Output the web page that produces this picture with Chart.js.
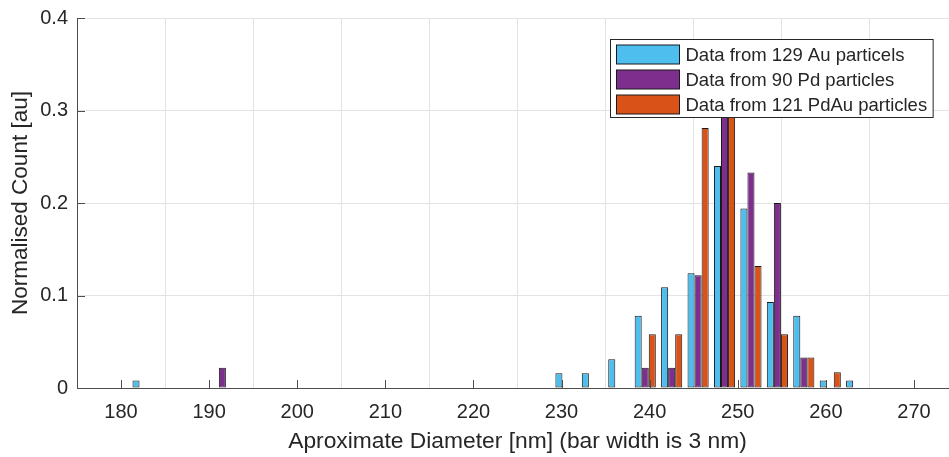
<!DOCTYPE html>
<html>
<head>
<meta charset="utf-8">
<script src="https://cdn.jsdelivr.net/npm/chart.js@4.4.1/dist/chart.umd.min.js"></script>
<style>
  html, body { margin: 0; padding: 0; background: #fff; overflow: hidden; }
  #wrap { position: relative; width: 960px; height: 457px; }
</style>
</head>
<body>
<div id="wrap"><canvas id="hist"></canvas></div>
<script>
// bin centres in nm (3 nm wide bins)
const binCenters = [182.5, 185.5, 188.5, 191.5, 194.5, 197.5, 200.5, 203.5, 206.5, 209.5,
                    212.5, 215.5, 218.5, 221.5, 224.5, 227.5, 230.5, 233.5, 236.5, 239.5,
                    242.5, 245.5, 248.5, 251.5, 254.5, 257.5, 260.5, 263.5];

// normalised counts per bin
const auCounts   = [0.008, 0, 0, 0, 0, 0, 0, 0, 0, 0,
                    0, 0, 0, 0, 0, 0, 0.016, 0.016, 0.031, 0.078,
                    0.109, 0.124, 0.240, 0.194, 0.093, 0.078, 0.008, 0.008];
const pdCounts   = [0, 0, 0, 0.022, 0, 0, 0, 0, 0, 0,
                    0, 0, 0, 0, 0, 0, 0, 0, 0, 0.022,
                    0.022, 0.122, 0.344, 0.233, 0.200, 0.033, 0, 0];
const pdauCounts = [0, 0, 0, 0, 0, 0, 0, 0, 0, 0,
                    0, 0, 0, 0, 0, 0, 0, 0, 0, 0.058,
                    0.058, 0.281, 0.364, 0.132, 0.058, 0.033, 0.017, 0];

const seriesLabels = ["Data from 129 Au particels", "Data from 90 Pd particles", "Data from 121 PdAu particles"];
const seriesColors = ["#4DBEEE", "#7E2F8E", "#D95319"];

const xTicks = [180, 190, 200, 210, 220, 230, 240, 250, 260, 270];
const yTicks = [0, 0.1, 0.2, 0.3, 0.4];

const FONT = "'Liberation Sans', Arial, Helvetica, sans-serif";
const TEXT = "#262626";
const AXIS = "#4d4d4d";

function points(values) {
    return binCenters.map((c, i) => ({ x: c, y: values[i] }));
}

// inward tick marks and the boxed legend, drawn on top of the bars
const axisExtras = {
    id: "axisExtras",
    afterDatasetsDraw(chart) {
        const ctx = chart.ctx;
        const area = chart.chartArea;
        const xs = chart.scales.x, ys = chart.scales.y;
        ctx.save();
        ctx.strokeStyle = AXIS;
        ctx.lineWidth = 1;
        ctx.beginPath();
        xTicks.forEach(v => {
            const px = Math.round(xs.getPixelForValue(v)) + 0.5;
            ctx.moveTo(px, area.bottom);
            ctx.lineTo(px, area.bottom - 8);
        });
        yTicks.forEach(v => {
            const py = Math.round(ys.getPixelForValue(v)) + 0.5;
            ctx.moveTo(area.left, py);
            ctx.lineTo(area.left + 8, py);
        });
        ctx.stroke();

        // legend
        ctx.font = "18.5px " + FONT;
        const textW = Math.max(...seriesLabels.map(s => ctx.measureText(s).width));
        const boxW = 75 + textW + 6;
        const boxH = 78;
        const bx = Math.round(area.right - 25 - boxW) + 0.5;
        const by = Math.round(area.top + 21) + 0.5;
        ctx.fillStyle = "#fff";
        ctx.fillRect(bx, by, boxW, boxH);
        ctx.strokeStyle = TEXT;
        ctx.strokeRect(bx, by, boxW, boxH);
        ctx.textBaseline = "middle";
        seriesLabels.forEach((s, i) => {
            const cy = by + 15 + i * 25;
            ctx.fillStyle = seriesColors[i];
            ctx.fillRect(bx + 6, cy - 9.5, 63, 19);
            ctx.strokeStyle = "#1a1a1a";
            ctx.strokeRect(bx + 6, cy - 9.5, 63, 19);
            ctx.fillStyle = TEXT;
            ctx.fillText(s, bx + 75, cy + 1);
        });
        ctx.restore();
    }
};

new Chart(document.getElementById("hist"), {
    type: "bar",
    data: {
        datasets: [
            { label: seriesLabels[0], data: points(auCounts), backgroundColor: seriesColors[0] },
            { label: seriesLabels[1], data: points(pdCounts), backgroundColor: seriesColors[1] },
            { label: seriesLabels[2], data: points(pdauCounts), backgroundColor: seriesColors[2] },
        ].map(d => Object.assign(d, {
            borderColor: "#1a1a1a",
            borderWidth: 1,
            borderSkipped: false,
            categoryPercentage: 0.8,
            barPercentage: 1.0,
        })),
    },
    options: {
        responsive: true,
        maintainAspectRatio: false,
        animation: false,
        layout: { padding: { top: 18, right: 2, left: 0, bottom: 0 } },
        plugins: {
            legend: { display: false },
            tooltip: { enabled: false },
        },
        scales: {
            x: {
                type: "linear",
                min: 175,
                max: 275,
                offset: false,
                afterBuildTicks: s => { s.ticks = xTicks.map(v => ({ value: v })); },
                afterFit: s => { s.height = 69; },
                grid: { color: "#e3e3e3", drawTicks: false },
                border: { color: AXIS, width: 1 },
                ticks: { color: TEXT, font: { family: FONT, size: 20 }, padding: 12, maxRotation: 0 },
                title: {
                    display: true,
                    text: "Aproximate Diameter [nm] (bar width is 3 nm)",
                    color: TEXT,
                    font: { family: FONT, size: 22.8 },
                    padding: { top: 0, bottom: 2 },
                },
            },
            y: {
                min: 0,
                max: 0.4,
                afterBuildTicks: s => { s.ticks = yTicks.map(v => ({ value: v })); },
                afterFit: s => { s.width = 77; s.paddingTop = 0; s.paddingBottom = 0; },
                grid: { color: "#e3e3e3", drawTicks: false },
                border: { color: AXIS, width: 1 },
                ticks: { color: TEXT, font: { family: FONT, size: 20, lineHeight: 1 }, padding: 9 },
                title: {
                    display: true,
                    text: "Normalised Count [au]",
                    color: TEXT,
                    font: { family: FONT, size: 22.5 },
                    padding: { top: 7, bottom: 0 },
                },
            },
        },
    },
    plugins: [axisExtras],
});
</script>
</body>
</html>
